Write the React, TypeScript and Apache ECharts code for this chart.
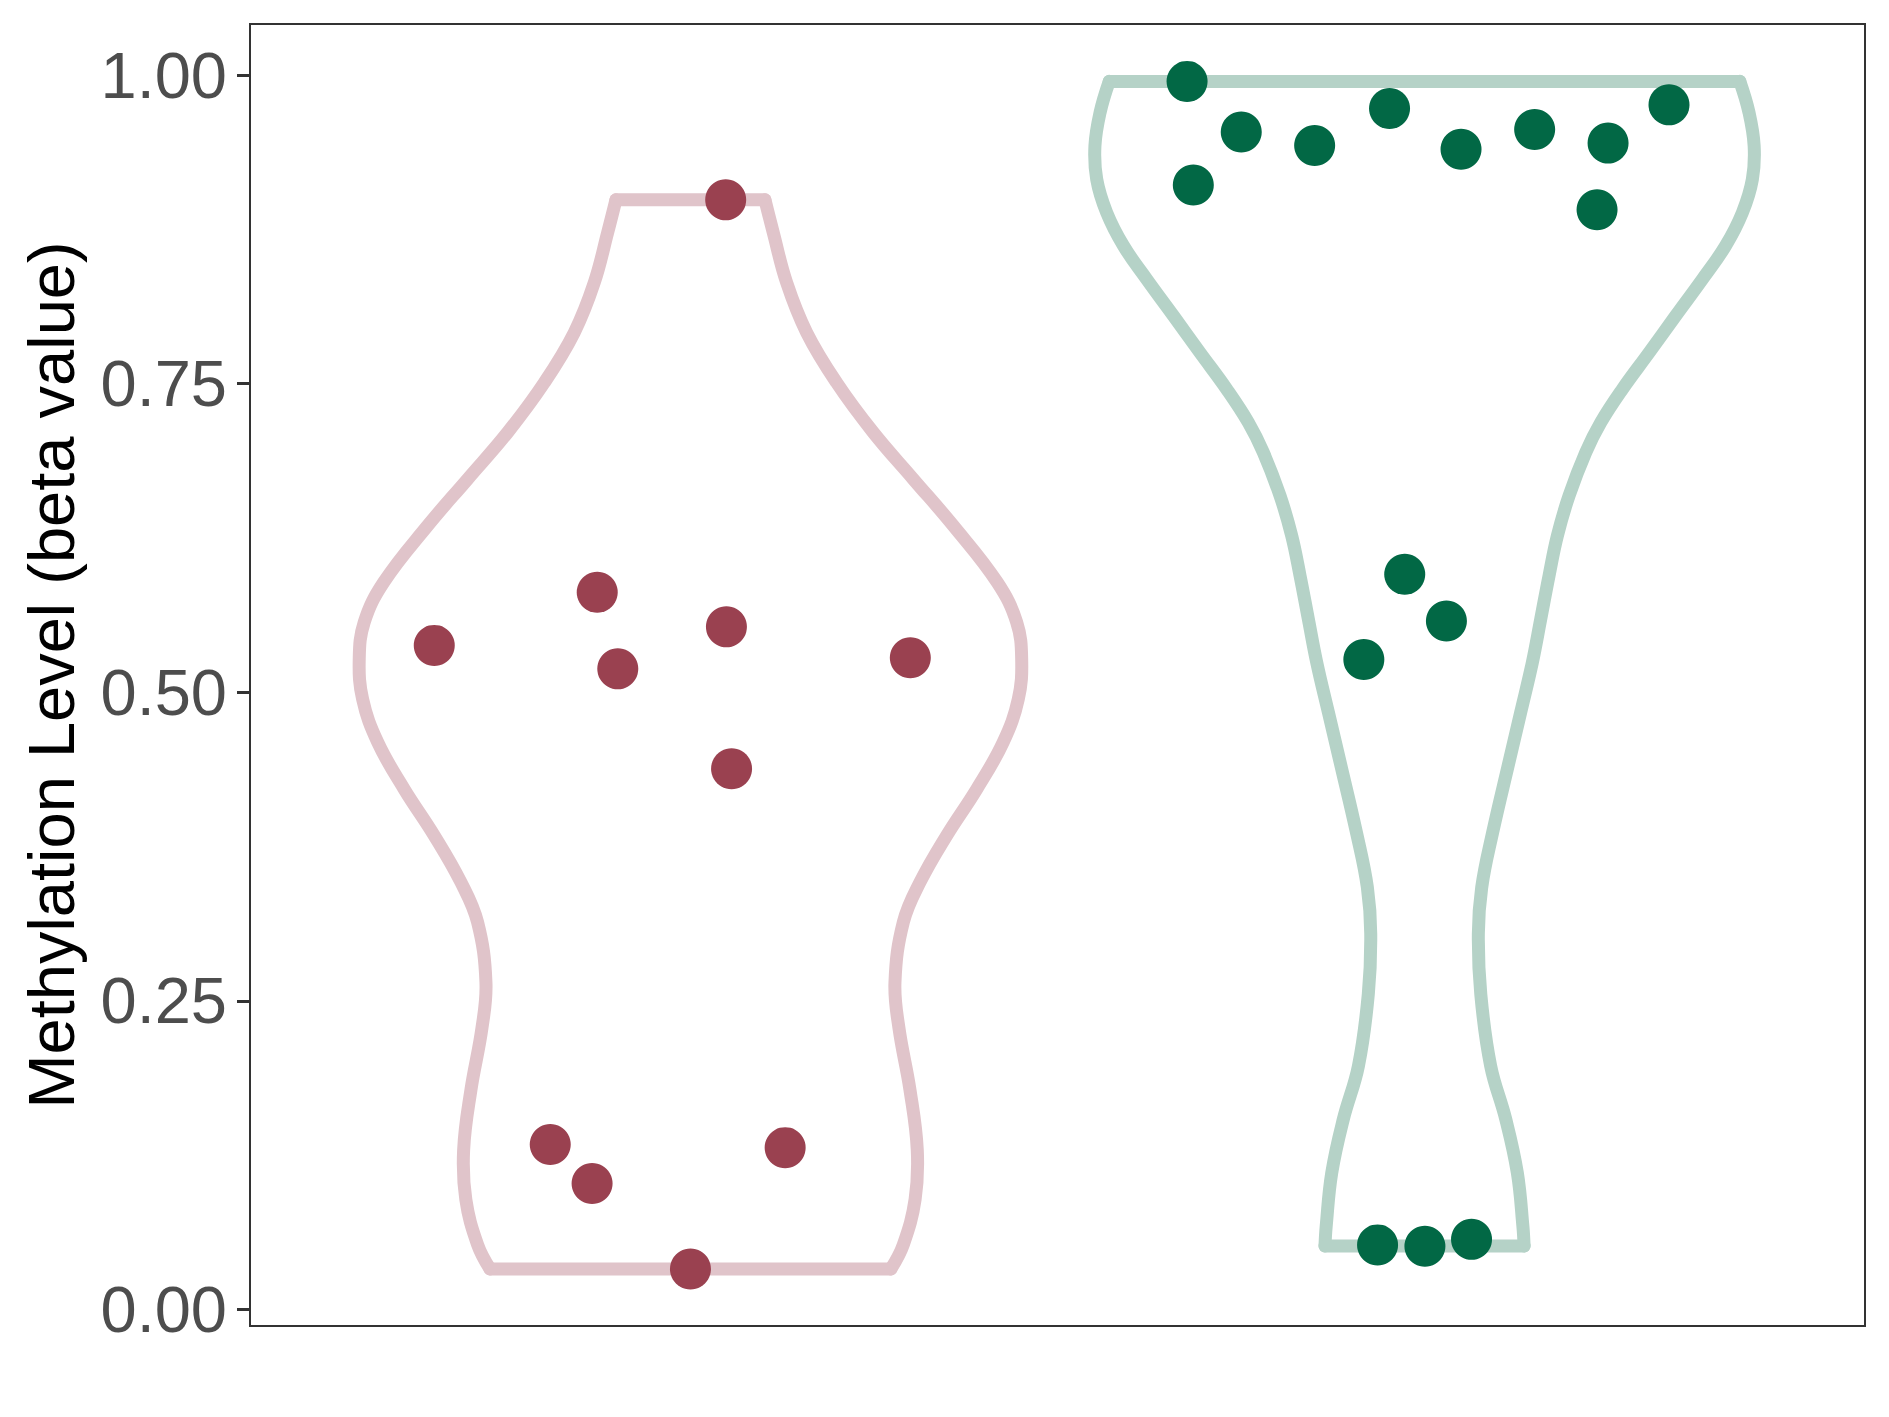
import React, { useEffect, useRef } from "react";
import * as echarts from "echarts";

// Category positions on the (hidden) discrete x scale
const categories = ["Group A", "Group B"];
const categoryPositions = [1, 2];

// Violin outline of group A: y values and half-widths (in category units)
const violinAY = [0.899, 0.8725, 0.832, 0.7915, 0.751, 0.7106, 0.6727, 0.635, 0.589, 0.5567, 0.527, 0.4945, 0.4595, 0.4216, 0.3839, 0.3461, 0.3137, 0.2651, 0.228, 0.178, 0.129, 0.089, 0.0525, 0.0327];
const violinAHalfWidth = [0.1015, 0.1128, 0.131, 0.1583, 0.199, 0.249, 0.3036, 0.358, 0.418, 0.4444, 0.4512, 0.4466, 0.426, 0.39, 0.349, 0.3127, 0.29, 0.2786, 0.284, 0.299, 0.309, 0.306, 0.29, 0.273];

// Violin outline of group B
const violinBY = [0.995, 0.9698, 0.9427, 0.9157, 0.8887, 0.8617, 0.8347, 0.805, 0.7753, 0.7456, 0.7186, 0.6944, 0.6593, 0.6269, 0.5945, 0.5594, 0.5243, 0.4838, 0.4433, 0.3854, 0.342, 0.3045, 0.2554, 0.1974, 0.1541, 0.1106, 0.0672, 0.0513];
const violinBHalfWidth = [0.4295, 0.442, 0.449, 0.4466, 0.433, 0.41, 0.3785, 0.342, 0.306, 0.2695, 0.24, 0.2196, 0.1969, 0.181, 0.1696, 0.1583, 0.1469, 0.131, 0.115, 0.0924, 0.0779, 0.0733, 0.0766, 0.09, 0.1106, 0.1264, 0.134, 0.1356];

// Jittered points of group A: beta values and horizontal jitter offsets
const pointsAValues = [0.899, 0.581, 0.538, 0.553, 0.519, 0.528, 0.438, 0.1336, 0.102, 0.131, 0.0327];
const pointsAJitter = [0.048, -0.127, -0.349, 0.049, -0.099, 0.2995, 0.056, -0.191, -0.134, 0.129, 0.0];

// Jittered points of group B
const pointsBValues = [0.995, 0.911, 0.954, 0.943, 0.973, 0.94, 0.956, 0.945, 0.891, 0.976, 0.5956, 0.5577, 0.5265, 0.0522, 0.0511, 0.0567];
const pointsBJitter = [-0.3235, -0.315, -0.2497, -0.1497, -0.0477, 0.0497, 0.15, 0.25, 0.235, 0.333, -0.027, 0.0298, -0.0827, -0.064, 0.0005, 0.064];

const yTicks = [0, 0.25, 0.5, 0.75, 1];

const FONT = '"Liberation Sans", Arial, Helvetica, sans-serif';

function violinSeries(name: string, center: number, ys: number[], hws: number[], color: string) {
  return {
    type: "custom",
    name,
    coordinateSystem: "cartesian2d",
    silent: true,
    z: 1,
    data: ys.map((y, i) => [center, y, hws[i]]),
    encode: { x: 0, y: 1 },
    renderItem: (params: any, api: any) => {
      if (params.dataIndex !== 0) return null;
      const left = ys.map((y, i) => api.coord([center - hws[i], y]));
      const right = ys.map((y, i) => api.coord([center + hws[i], y]));
      const n = ys.length;
      const style = { stroke: color, lineWidth: 13, fill: null, lineCap: "round", lineJoin: "round" };
      return {
        type: "group",
        children: [
          { type: "polyline", shape: { points: left, smooth: 0.4 }, style },
          { type: "polyline", shape: { points: right, smooth: 0.4 }, style },
          { type: "polyline", shape: { points: [left[0], right[0]] }, style },
          { type: "polyline", shape: { points: [left[n - 1], right[n - 1]] }, style },
        ],
      };
    },
  };
}

function pointSeries(name: string, center: number, values: number[], jitter: number[], color: string) {
  return {
    type: "scatter",
    name,
    z: 3,
    symbol: "circle",
    symbolSize: 41,
    itemStyle: { color, opacity: 1 },
    data: values.map((v, i) => [center + jitter[i], v]),
  };
}

export default function App() {
  const ref = useRef<HTMLDivElement>(null);
  useEffect(() => {
    if (!ref.current) return;
    const chart = echarts.init(ref.current, null, { renderer: "svg" });
    chart.setOption({
      animation: false,
      backgroundColor: "#ffffff",
      grid: {
        left: 250,
        right: 24,
        top: 24,
        bottom: 91,
        show: true,
        borderColor: "#333333",
        borderWidth: 2,
        backgroundColor: "transparent",
      },
      xAxis: {
        type: "value",
        min: 0.4,
        max: 2.6,
        axisLine: { show: false },
        axisTick: { show: false },
        axisLabel: { show: false },
        splitLine: { show: false },
      },
      yAxis: {
        type: "value",
        min: -0.0135,
        max: 1.0415,
        name: "Methylation Level (beta value)",
        nameLocation: "middle",
        nameRotate: 90,
        nameGap: 166,
        nameTextStyle: { fontSize: 65, color: "#000000", fontFamily: FONT },
        axisLine: { show: false },
        axisTick: {
          show: true,
          length: 13,
          customValues: yTicks,
          lineStyle: { color: "#333333", width: 3 },
        },
        axisLabel: {
          show: true,
          customValues: yTicks,
          formatter: (v: number) => v.toFixed(2),
          fontSize: 65,
          color: "#4D4D4D",
          fontFamily: FONT,
          margin: 23,
        },
        splitLine: { show: false },
      },
      series: [
        violinSeries(categories[0] + " violin", categoryPositions[0], violinAY, violinAHalfWidth, "#E0C4CA"),
        violinSeries(categories[1] + " violin", categoryPositions[1], violinBY, violinBHalfWidth, "#B5D2C7"),
        pointSeries(categories[0], categoryPositions[0], pointsAValues, pointsAJitter, "#9A4150"),
        pointSeries(categories[1], categoryPositions[1], pointsBValues, pointsBJitter, "#026845"),
      ],
    });
    return () => chart.dispose();
  }, []);
  return (
    <div
      ref={ref}
      style={{ position: "fixed", left: 0, top: 0, width: 1889, height: 1417, background: "#fff" }}
    />
  );
}
